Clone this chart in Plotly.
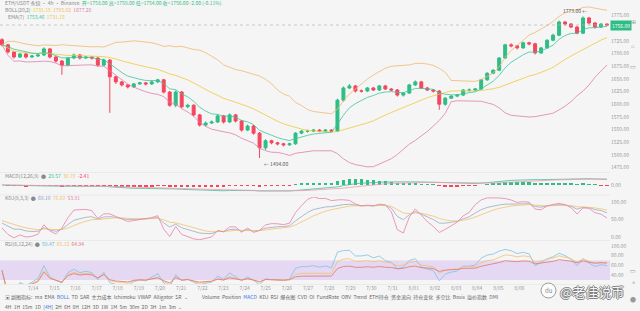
import numpy as np
import pandas as pd
import plotly.graph_objects as go
from plotly.subplots import make_subplots

# ---------------- data ----------------
opens = [1727,1717,1703,1693,1699,1693,1695,1697,1709,1693,
         1685,1677,1691,1697,1691,1693,1691,1677,1687,1654,
         1644,1638,1634,1640,1642,1640,1644,1648,1624,1598,
         1624,1595,1598,1579,1559,1563,1565,1577,1565,1579,
         1567,1549,1557,1543,1514,1528,1524,1522,1520,1522,
         1543,1547,1547,1549,1547,1549,1547,1608,1632,1636,
         1626,1626,1632,1628,1636,1630,1628,1618,1622,1638,
         1644,1632,1628,1626,1600,1612,1616,1618,1628,1628,
         1630,1648,1661,1667,1691,1717,1715,1711,1721,1719,
         1701,1711,1726,1736,1762,1758,1752,1740,1770,1760,
         1752,1758]
closes = [1717,1703,1693,1699,1693,1695,1697,1709,1693,1685,
          1677,1691,1697,1691,1693,1691,1677,1687,1654,1644,
          1638,1634,1640,1642,1640,1644,1648,1624,1598,1624,
          1595,1598,1579,1559,1563,1565,1577,1565,1579,1567,
          1549,1557,1543,1514,1528,1524,1522,1520,1522,1543,
          1547,1547,1549,1547,1549,1547,1608,1632,1636,1626,
          1626,1632,1628,1636,1630,1628,1618,1622,1638,1644,
          1632,1628,1626,1600,1612,1616,1618,1628,1628,1630,
          1648,1661,1667,1691,1717,1715,1711,1721,1719,1701,
          1711,1726,1736,1762,1758,1752,1740,1770,1760,1752,
          1758,1756]
highs = [1730,1719,1705,1701,1701,1697,1699,1712,1710,1695,
         1687,1693,1700,1699,1695,1695,1693,1690,1689,1656,
         1646,1640,1642,1644,1644,1646,1650,1650,1626,1627,
         1626,1601,1600,1581,1566,1568,1580,1579,1582,1581,
         1569,1560,1559,1545,1531,1530,1526,1524,1524,1545,
         1549,1550,1551,1551,1551,1551,1611,1635,1640,1638,
         1629,1634,1634,1638,1638,1632,1630,1624,1640,1647,
         1646,1634,1630,1628,1614,1618,1620,1630,1631,1632,
         1650,1663,1669,1693,1719,1720,1717,1723,1723,1721,
         1713,1728,1739,1765,1764,1760,1754,1773,1772,1762,
         1760,1759]
lows = [1714,1700,1690,1691,1690,1691,1693,1695,1690,1682,
        1658,1675,1689,1688,1689,1688,1674,1675,1583,1640,
        1635,1631,1632,1638,1637,1638,1642,1621,1595,1594,
        1592,1592,1576,1556,1556,1561,1563,1562,1563,1564,
        1546,1547,1540,1494,1510,1521,1519,1517,1518,1520,
        1541,1544,1545,1545,1545,1545,1545,1605,1630,1623,
        1623,1624,1626,1626,1628,1626,1615,1615,1620,1636,
        1630,1626,1623,1589,1597,1610,1614,1616,1625,1626,
        1628,1646,1659,1665,1689,1712,1708,1709,1716,1698,
        1699,1709,1724,1734,1755,1750,1738,1738,1757,1749,
        1750,1754]
date_labels = ["7/14","7/15","7/16","7/17","7/18","7/19","7/20","7/21",
               "7/22","7/23","7/24","7/25","7/26","7/27","7/28","7/29",
               "7/30","7/31","8/01","8/02","8/03","8/04","8/05","8/06"]
price_ticks = [1475,1500,1525,1550,1575,1600,1625,1650,1675,1700,1725,1775]
kdj_ticks = [0, 50, 100]
rsi_ticks = [40, 60, 80, 100]

# ---------------- indicators derived from the candles ----------------
c = pd.Series(closes, dtype=float)
h = pd.Series(highs, dtype=float)
l = pd.Series(lows, dtype=float)
x = list(range(len(closes)))

mb = c.rolling(20, min_periods=1).mean()
sd = c.rolling(20, min_periods=1).std(ddof=0)
bb_up = mb + 2 * sd
bb_dn = mb - 2 * sd
ema7 = c.ewm(span=7, adjust=False).mean()

ema12 = c.ewm(span=12, adjust=False).mean()
ema26 = c.ewm(span=26, adjust=False).mean()
dif = ema12 - ema26
dea = dif.ewm(span=9, adjust=False).mean()
hist = 2 * (dif - dea)

ll = l.rolling(9, min_periods=1).min()
hh = h.rolling(9, min_periods=1).max()
rsv = ((c - ll) / (hh - ll).replace(0, np.nan) * 100).fillna(50)
K, D = [], []
k_prev, d_prev = 50.0, 50.0
for v in rsv:
    k_prev = 2 / 3 * k_prev + v / 3
    d_prev = 2 / 3 * d_prev + k_prev / 3
    K.append(k_prev); D.append(d_prev)
K = pd.Series(K); D = pd.Series(D)
J = 3 * K - 2 * D

def rsi(n):
    d = c.diff().fillna(0)
    g = d.clip(lower=0).ewm(alpha=1 / n, adjust=False).mean()
    s = (-d.clip(upper=0)).ewm(alpha=1 / n, adjust=False).mean()
    return 100 - 100 / (1 + g / s.replace(0, np.nan))
rsi6, rsi12, rsi24 = rsi(6).fillna(50), rsi(12).fillna(50), rsi(24).fillna(50)

# ---------------- styling ----------------
BG = "#f5f5f5"
UP = "#2ebd85"
DN = "#f6465d"
C_UP = "#f2b870"
C_MB = "#efc93a"
C_DN = "#de7fae"
C_EMA = "#3fc4a0"
FONT = "Noto Sans CJK SC, Noto Sans, sans-serif"
H, W_PLOT = 311.0, 610.0

def py(p):
    return 1 - p / H

def pxp(p):
    return p / W_PLOT

fig = make_subplots(rows=4, cols=1, shared_xaxes=True, vertical_spacing=0.01)

fig.add_trace(go.Candlestick(
    x=x, open=opens, high=highs, low=lows, close=closes,
    increasing=dict(line=dict(color=UP, width=1), fillcolor=UP),
    decreasing=dict(line=dict(color=DN, width=1), fillcolor=DN),
    whiskerwidth=0, hoverinfo="skip"), row=1, col=1)
for ser, col in [(bb_up, C_UP), (bb_dn, C_DN), (mb, C_MB), (ema7, C_EMA)]:
    fig.add_trace(go.Scatter(x=x, y=ser, mode="lines", hoverinfo="skip",
                             line=dict(color=col, width=0.8)), row=1, col=1)

fig.add_trace(go.Bar(x=x, y=hist, width=0.6, hoverinfo="skip",
                     marker=dict(color=[UP if v >= 0 else DN for v in hist], line=dict(width=0))),
              row=2, col=1)
fig.add_trace(go.Scatter(x=x, y=dif, mode="lines", line=dict(color="#3fbf9f", width=0.8)), row=2, col=1)
fig.add_trace(go.Scatter(x=x, y=dea, mode="lines", line=dict(color="#f29bb0", width=0.8)), row=2, col=1)

fig.add_trace(go.Scatter(x=x, y=K, mode="lines", line=dict(color="#9aaac6", width=0.8)), row=3, col=1)
fig.add_trace(go.Scatter(x=x, y=D, mode="lines", line=dict(color="#f1c36c", width=0.8)), row=3, col=1)
fig.add_trace(go.Scatter(x=x, y=J, mode="lines", line=dict(color="#e880a8", width=0.8)), row=3, col=1)

fig.add_trace(go.Scatter(x=x, y=rsi6, mode="lines", line=dict(color="#7ec3e6", width=0.8)), row=4, col=1)
fig.add_trace(go.Scatter(x=x, y=rsi12, mode="lines", line=dict(color="#f1c36c", width=0.8)), row=4, col=1)
fig.add_trace(go.Scatter(x=x, y=rsi24, mode="lines", line=dict(color="#e57373", width=0.8)), row=4, col=1)

xr = [-0.33, 101.5]
for r in range(1, 5):
    fig.update_xaxes(range=xr, showgrid=False, zeroline=False, showline=False,
                     showticklabels=False, ticks="", rangeslider_visible=False, row=r, col=1)
fig.update_xaxes(showticklabels=True, tickmode="array",
                 tickvals=[5.2 + 3.53 * k for k in range(len(date_labels))],
                 ticktext=date_labels, tickfont=dict(size=5, color="#9a9a9a"), row=4, col=1)

yax = dict(side="right", showgrid=False, zeroline=False, showline=False, ticks="",
           tickfont=dict(size=5, color="#9a9a9a"), automargin=False)
mac_lim = float(max(hist.abs().max(), dif.abs().max(), dea.abs().max())) * 1.25
fig.update_yaxes(**yax)
fig.update_yaxes(range=[1470.4, 1793.5], tickmode="array", tickvals=price_ticks,
                 ticktext=[f"{v:.2f}" for v in price_ticks], row=1, col=1)
fig.update_yaxes(range=[-mac_lim, mac_lim], tickmode="array", tickvals=[0], ticktext=["0.00"], row=2, col=1)
fig.update_yaxes(range=[-8.6, 114.3], tickmode="array", tickvals=kdj_ticks,
                 ticktext=[f"{v:.2f}" for v in kdj_ticks], row=3, col=1)
fig.update_yaxes(range=[22, 110], tickmode="array", tickvals=rsi_ticks,
                 ticktext=[f"{v:.2f}" for v in rsi_ticks], row=4, col=1)

fig.update_layout(
    width=640, height=311, margin=dict(l=0, r=30, t=0, b=0),
    paper_bgcolor=BG, plot_bgcolor=BG, showlegend=False, bargap=0,
    font=dict(family=FONT, size=5, color="#888"),
    yaxis=dict(domain=[py(170), py(6)]),
    yaxis2=dict(domain=[py(193), py(177)]),
    yaxis3=dict(domain=[py(240), py(197)]),
    yaxis4=dict(domain=[py(284), py(241)]),
)

shapes = []
shapes.append(dict(type="line", xref="x", yref="y", x0=xr[0], x1=xr[1], y0=closes[-1], y1=closes[-1],
                   line=dict(color="#b5b5b5", width=0.7, dash="dot")))
shapes.append(dict(type="rect", xref="x4 domain", yref="y4", x0=0, x1=1, y0=30, y1=70,
                   fillcolor="rgba(190,150,235,0.30)", line=dict(width=0), layer="below"))
for yy in [172.5, 195, 240.5, 284.5]:
    shapes.append(dict(type="line", xref="paper", yref="paper", x0=0, x1=1.0, y0=py(yy), y1=py(yy),
                       line=dict(color="#e2e2e2", width=0.6)))
shapes.append(dict(type="circle", xref="paper", yref="paper",
                   x0=pxp(541), x1=pxp(556), y0=py(298), y1=py(283),
                   line=dict(color="#9a9a9a", width=1), fillcolor="rgba(255,255,255,0.7)"))
fig.update_layout(shapes=shapes)

def span(t, col):
    return f"<span style='color:{col}'>{t}</span>"

ann = []
def add(text, xp, yp, size=5, color="#8a8a8a", anchor="left"):
    ann.append(dict(text=text, xref="paper", yref="paper", x=pxp(xp), y=py(yp),
                    xanchor=anchor, yanchor="middle", showarrow=False,
                    font=dict(size=size, color=color, family=FONT)))

add("ETH/USDT 永续 · 4h · Binance  " + span(f"开={opens[-1]:.2f} 高={highs[-1]:.2f} 低={lows[-1]:.2f} 收={closes[-1]:.2f} -2.00 (-0.11%)", UP), 3, 3)
add("BOLL(20,2)  " + span(f"{mb.iloc[-1]:.2f}", C_MB) + "  " + span(f"{bb_up.iloc[-1]:.2f}", C_UP)
    + "  " + span(f"{bb_dn.iloc[-1]:.2f}", C_DN), 3, 9.5)
add("EMA(7)  " + span(f"{ema7.iloc[-1]:.2f}", C_EMA) + "  " + span(f"{mb.iloc[-1]:.2f}", C_MB), 6, 16)

add("MACD(12,26,9)  ●  " + span(f"{dif.iloc[-1]:.2f}", "#3fbf9f") + "  " + span(f"{dea.iloc[-1]:.2f}", "#f1c36c")
    + "  " + span(f"{hist.iloc[-1]:.2f}", DN), 3, 175)
add("KDJ(9,3,3)  ●  " + span(f"{K.iloc[-1]:.2f}", "#7f9cc9") + "  " + span(f"{D.iloc[-1]:.2f}", "#f1c36c")
    + "  " + span(f"{J.iloc[-1]:.2f}", "#e880a8"), 3, 197)
add("RSI(6,12,24)  ●  " + span(f"{rsi6.iloc[-1]:.2f}", "#5fb7e0") + "  " + span(f"{rsi12.iloc[-1]:.2f}", "#f1c36c")
    + "  " + span(f"{rsi24.iloc[-1]:.2f}", "#e57373"), 3, 243)

ann.append(dict(text=f"{closes[-1]:.2f}", xref="paper", yref="y", x=1.0, y=closes[-1],
                xanchor="left", yanchor="middle", showarrow=False, bgcolor=UP, borderpad=1,
                font=dict(size=5, color="white", family=FONT)))
imax = int(np.argmax(highs)); imin = int(np.argmin(lows))
ann.append(dict(text=f"{highs[imax]:.2f} ←", x=imax + 1, y=highs[imax], xref="x", yref="y",
                xanchor="right", yanchor="bottom", showarrow=False,
                font=dict(size=5, color="#555", family=FONT)))
ann.append(dict(text=f"← {lows[imin]:.2f}", x=imin + 0.4, y=lows[imin], xref="x", yref="y",
                xanchor="left", yanchor="top", showarrow=False,
                font=dict(size=5, color="#555", family=FONT)))

BLUE = "#3d7be0"
row1a = ("▣ 副图指标:  ma  EMA  " + span("BOLL", BLUE) + "  TD  SAR  主力成本  Ichimoku  VWAP  Alligator  SR  ⌄")
row1b = ("Volume  Position  " + span("MACD", BLUE) + "  KDJ  RSI  爆仓图  CVD  OI  FundRate  OBV  Trend  ETH持仓  资金流向  "
         "持仓变化  多空比  Basis  溢价指数  DMI")
row2 = ("4H  1H  15m  1D  " + span("[4H]", BLUE) + "  2H  6H  8H  12H  3D  1W  1M  5m  30m  2D  3H  1m  3m  ⌄")
add(row1a, 3, 297, color="#666")
add(row1b, 200, 297, color="#666")
add(row2, 3, 306, color="#666")

add("du", 548.5, 290.5, size=6, color="#8a8a8a", anchor="center")
add("@老佳说币", 558, 291, size=13, color="rgba(255,255,255,0.95)")
ann[-1]["font"]["shadow"] = "1px 0 0 #7a7a7a, -1px 0 0 #7a7a7a, 0 1px 0 #7a7a7a, 0 -1px 0 #7a7a7a"

for yy, t in [(22, "⊞"), (45, "⌂"), (66, "▭"), (270, "▭"), (283, "^"), (299, "●")]:
    add(t, 633, yy, size=6, color="#999", anchor="center")

fig.update_layout(annotations=ann)
fig.write_html("out.html")
